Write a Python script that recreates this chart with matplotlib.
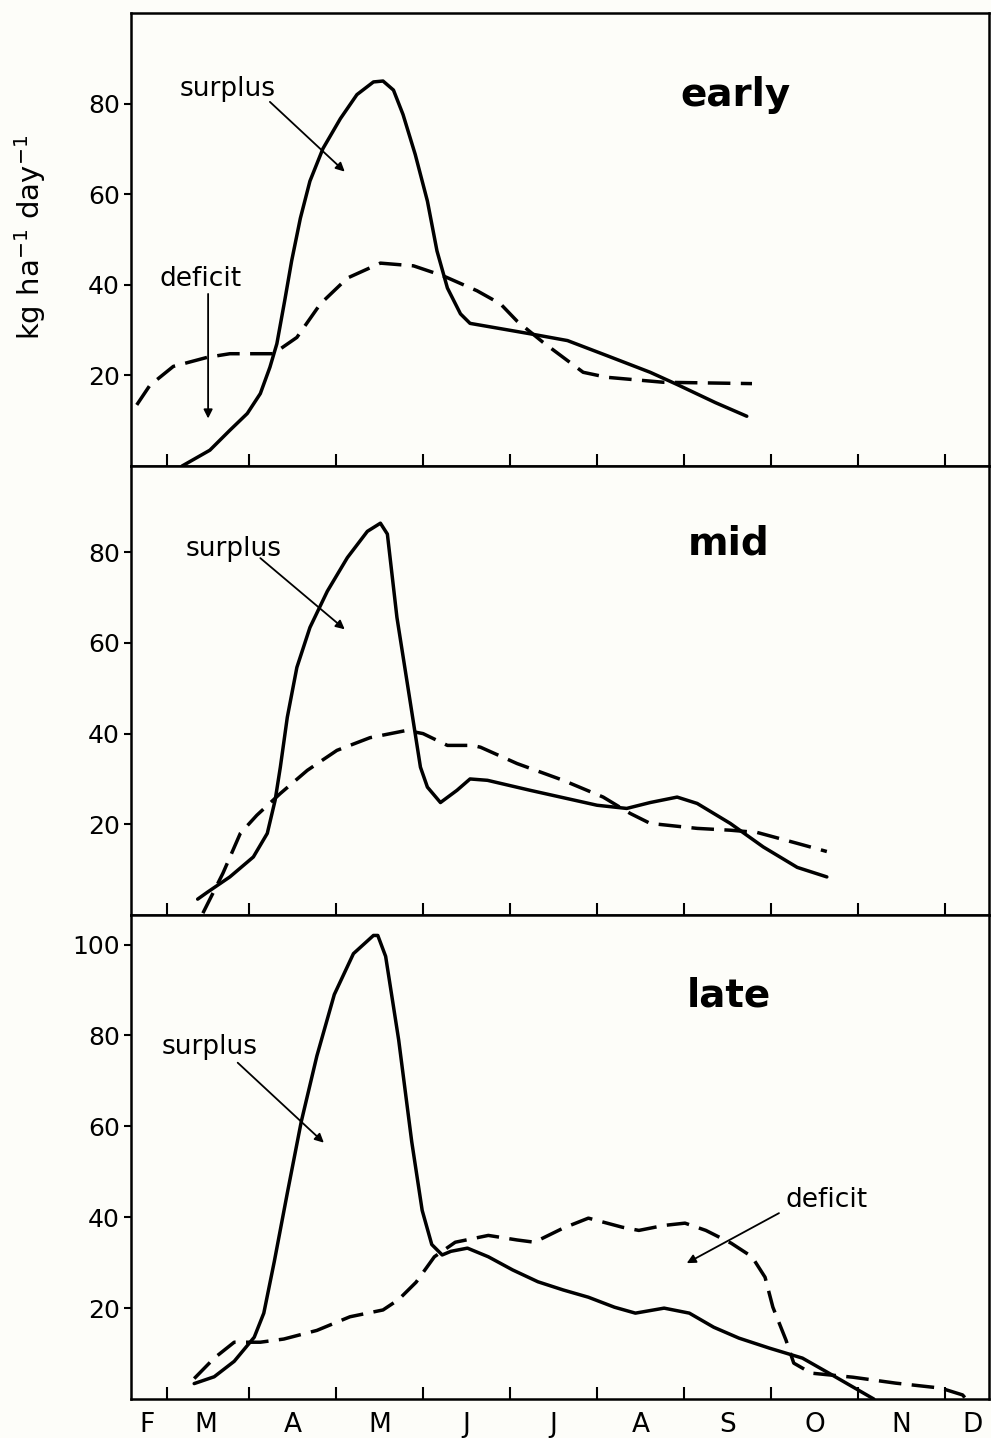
import matplotlib.pyplot as plt

# x axis: months elapsed since 1 January (2 = 1 March ... 11 = 1 December)
months = ['F', 'M', 'A', 'M', 'J', 'J', 'A', 'S', 'O', 'N', 'D']
month_pos = [1.83, 2.5, 3.5, 4.5, 5.5, 6.5, 7.5, 8.5, 9.5, 10.5, 11.31]
month_edges = [2.06, 3, 4, 5, 6, 7, 8, 9, 10, 11]

# early
early_sur_x = [2.23, 2.55, 2.78, 2.98, 3.13, 3.24, 3.32, 3.41, 3.49, 3.59, 3.70, 3.85, 4.05, 4.24,
               4.43, 4.54, 4.66, 4.77, 4.91, 5.05, 5.16, 5.28, 5.43, 5.54, 5.90, 6.23, 6.66,
               7.11, 7.61, 7.92, 8.36, 8.72]
early_sur_y = [0, 3.5, 7.9, 11.6, 16, 21.8, 27, 36.5, 45.3, 54.7, 62.9, 70.1, 76.7, 82,
               84.8, 85, 83, 77.6, 68.8, 58.5, 47.5, 39.3, 33.6, 31.5, 30.3, 29.2, 27.7,
               24.4, 20.7, 18, 14, 11]
early_def_x = [1.71, 1.86, 2.13, 2.52, 2.78, 3.28, 3.55, 3.82, 4.13, 4.51, 4.89, 5.23, 5.62,
               5.89, 6.08, 6.38, 6.84, 7.11, 7.76, 8.78]
early_def_y = [13.5, 17.8, 22, 24, 24.8, 24.8, 28.4, 35.8, 41.5, 44.8, 44.2, 42, 38.7,
               35.8, 32, 27.3, 20.7, 19.6, 18.5, 18.2]

# mid
mid_sur_x = [2.41, 2.52, 2.78, 3.05, 3.21, 3.30, 3.36, 3.44, 3.55, 3.70, 3.90, 4.13, 4.36, 4.51,
             4.59, 4.70, 4.85, 4.97, 5.05, 5.20, 5.39, 5.54, 5.74, 6.23, 7.00, 7.34, 7.61, 7.92,
             8.15, 8.53, 8.91, 9.30, 9.64]
mid_sur_y = [3.5, 5, 8.4, 12.8, 18, 25.3, 32.6, 43.6, 54.6, 63.4, 71.4, 78.8, 84.6, 86.4,
             84, 65.6, 47.3, 32.6, 28.2, 24.8, 27.5, 30, 29.7, 27.5, 24.2, 23.5, 24.8, 26,
             24.6, 20.2, 15, 10.5, 8.4]
mid_def_x = [2.47, 2.70, 2.90, 3.09, 3.36, 3.67, 4.01, 4.39, 4.81, 5.00, 5.28, 5.57, 5.66, 6.08,
             6.61, 7.07, 7.38, 7.61, 8.15, 8.53, 8.84, 9.30, 9.64]
mid_def_y = [0.4, 9.2, 18, 22, 26.8, 31.9, 36.3, 39.1, 40.7, 40, 37.4, 37.4, 37, 33.4,
             29.7, 26, 22.4, 20.2, 19.1, 18.7, 18.2, 15.8, 14]

# late
late_sur_x = [2.37, 2.60, 2.83, 3.06, 3.17, 3.29, 3.44, 3.60, 3.78, 3.98, 4.20, 4.43, 4.48, 4.57,
              4.72, 4.87, 4.99, 5.10, 5.22, 5.32, 5.51, 5.75, 6.03, 6.32, 6.61, 6.90, 7.20, 7.44,
              7.77, 8.06, 8.34, 8.63, 8.98, 9.36, 9.70, 10.18]
late_sur_y = [3.4, 4.9, 8.3, 13.6, 18.9, 30.2, 45.3, 61, 75.5, 89, 98, 102, 102, 97.4,
              79, 56.6, 41.5, 34, 31.7, 32.5, 33.2, 31.3, 28.4, 25.8, 24, 22.4, 20.2, 18.9,
              20, 18.9, 15.8, 13.4, 11.2, 9, 5.3, 0]
late_def_x = [2.37, 2.60, 2.83, 3.13, 3.40, 3.78, 4.16, 4.54, 4.72, 4.92, 5.13, 5.37, 5.75, 6.08,
              6.28, 6.61, 6.90, 7.29, 7.48, 7.77, 8.01, 8.25, 8.54, 8.78, 8.93, 9.02, 9.17, 9.26,
              9.46, 9.94, 10.43, 10.95, 11.20, 11.24]
late_def_y = [4.5, 9, 12.5, 12.5, 13.2, 15.1, 18.1, 19.6, 21.9, 25.7, 31.3, 34.5, 36, 35,
              34.5, 37.6, 39.8, 37.8, 37.1, 38.2, 38.7, 37.1, 34.3, 31.3, 26.8, 20.2, 13, 7.9,
              5.7, 4.8, 3.5, 2.4, 0.9, 0]

bg = '#fdfdf9'
fig = plt.figure(figsize=(9.91, 14.38), dpi=100, facecolor=bg)

# axes rectangles in figure fraction (left, bottom, width, height)
ax1 = fig.add_axes([0.1322, 0.6759, 0.866, 0.3150])
ax2 = fig.add_axes([0.1322, 0.3637, 0.866, 0.3122])
ax3 = fig.add_axes([0.1322, 0.0271, 0.866, 0.3366])

panels = [
    (ax1, early_sur_x, early_sur_y, early_def_x, early_def_y, 'early', 8.59, 82, 100, [20, 40, 60, 80]),
    (ax2, mid_sur_x, mid_sur_y, mid_def_x, mid_def_y, 'mid', 8.51, 82, 99, [20, 40, 60, 80]),
    (ax3, late_sur_x, late_sur_y, late_def_x, late_def_y, 'late', 8.52, 88.8, 106.5, [20, 40, 60, 80, 100]),
]

for ax, sx, sy, dx, dy, name, tx, ty, ytop, yt in panels:
    ax.set_facecolor(bg)
    ax.plot(sx, sy, color='black', lw=2.5, solid_joinstyle='round', solid_capstyle='round')
    ax.plot(dx, dy, color='black', lw=2.5, dashes=(6.5, 3.0), dash_joinstyle='round')
    ax.set_xlim(1.644, 11.506)
    ax.set_ylim(0, ytop)
    ax.set_yticks(yt)
    ax.set_yticklabels([str(v) for v in yt], fontsize=18)
    ax.tick_params(axis='y', direction='out', length=5, width=1.5, pad=3)
    ax.set_xticks(month_edges, minor=True)
    ax.tick_params(axis='x', which='minor', direction='in', length=9, width=1.5)
    ax.set_xticks(month_pos)
    ax.tick_params(axis='x', which='major', length=0, pad=9)
    ax.set_xticklabels([])
    for sp in ax.spines.values():
        sp.set_linewidth(1.8)
    ax.text(tx, ty, name, fontsize=28, fontweight='bold', ha='center', va='center')

ax3.set_xticklabels(months, fontsize=19)

arrow = dict(arrowstyle='-|>', color='black', lw=1.3, mutation_scale=13, shrinkA=0, shrinkB=0)

ax1.text(2.75, 83.3, 'surplus', fontsize=19, ha='center', va='center')
ax1.annotate('', xy=(4.10, 65), xytext=(3.24, 80.4), arrowprops=arrow)
ax1.text(2.44, 41.3, 'deficit', fontsize=19, ha='center', va='center')
ax1.annotate('', xy=(2.53, 10.5), xytext=(2.53, 38), arrowprops=arrow)

ax2.text(2.82, 80.7, 'surplus', fontsize=19, ha='center', va='center')
ax2.annotate('', xy=(4.10, 63), xytext=(3.13, 78.7), arrowprops=arrow)

ax3.text(2.55, 77.4, 'surplus', fontsize=19, ha='center', va='center')
ax3.annotate('', xy=(3.86, 56.4), xytext=(2.87, 74), arrowprops=arrow)
ax3.text(9.64, 43.7, 'deficit', fontsize=19, ha='center', va='center')
ax3.annotate('', xy=(8.03, 29.9), xytext=(9.09, 40.9), arrowprops=arrow)

fig.text(30 / 991, 1 - 237 / 1438, r'kg ha$^{-1}$ day$^{-1}$', fontsize=21,
         rotation=90, ha='center', va='center')

fig.savefig('out.png', dpi=100, facecolor=bg)
